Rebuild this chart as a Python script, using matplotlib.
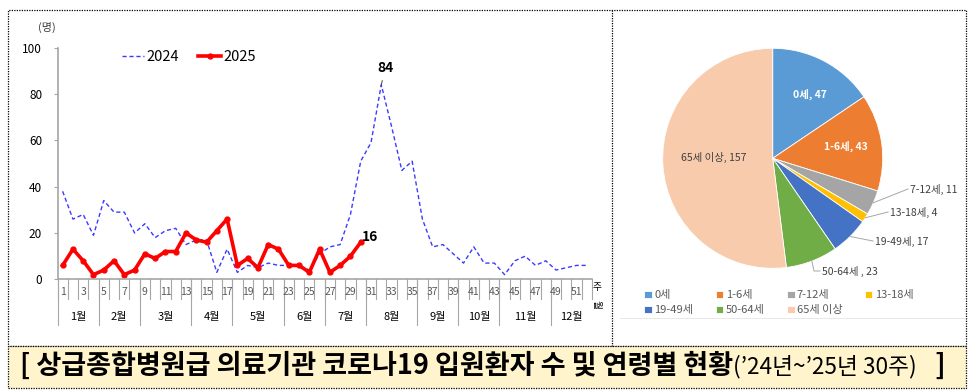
import numpy as np
import matplotlib
matplotlib.use('Agg')
from matplotlib import pyplot as plt
from matplotlib.lines import Line2D
from matplotlib.patches import Rectangle

plt.rcParams['font.family'] = ['Noto Sans CJK KR', 'DejaVu Sans']

W, H = 971, 391

# 주별 입원환자 수
weeks = np.arange(1, 53)
y2024 = [38, 26, 28, 19, 34, 29, 29, 20, 24, 18, 21, 22, 15, 17, 17, 3, 13, 3, 6, 5,
         7, 6, 6, 6, 4, 11, 14, 15, 28, 51, 59, 84, 66, 47, 51, 26, 14, 15, 11, 7,
         14, 7, 7, 2, 8, 10, 6, 8, 4, 5, 6, 6]
y2025 = [6, 13, 8, 2, 4, 8, 2, 4, 11, 9, 12, 12, 20, 17, 16, 21, 26, 6, 9, 5,
         15, 13, 6, 6, 3, 13, 3, 6, 10, 16]
month_labels = ['1월', '2월', '3월', '4월', '5월', '6월', '7월', '8월', '9월', '10월', '11월', '12월']
month_weeks = [4, 4, 5, 4, 5, 4, 4, 5, 4, 4, 5, 4]

# 연령별
ages = ['0세', '1-6세', '7-12세', '13-18세', '19-49세', '50-64세', '65세 이상']
counts = [47, 43, 11, 4, 17, 23, 157]
colors = ['#5B9BD5', '#ED7D31', '#A5A5A5', '#FFC000', '#4472C4', '#70AD47', '#F8CBAD']


def fx(x):
    return x / W


def fy(y):
    return 1 - y / H


fig = plt.figure(figsize=(W / 100, H / 100), dpi=100)

# ---- 테두리 / 제목 박스
dot = (0, (1, 1))
fig.add_artist(Rectangle((fx(8), fy(346)), fx(966) - fx(8), fy(10) - fy(346),
                         transform=fig.transFigure, fill=False, ls=dot, lw=0.9, ec='black'))
fig.add_artist(Line2D([fx(612), fx(612)], [fy(10), fy(346)], transform=fig.transFigure,
                      ls=dot, lw=0.9, color='black'))
fig.add_artist(Rectangle((fx(8), fy(388)), fx(966) - fx(8), fy(346) - fy(388),
                         transform=fig.transFigure, fc='#FFF4CC', ls=dot, lw=0.9, ec='black'))
fig.add_artist(Line2D([fx(620), fx(965)], [fy(318), fy(318)], transform=fig.transFigure,
                      lw=0.6, color='#E4E4E4'))

# ---- 선 그래프
ax = fig.add_axes([fx(57.5), fy(279.3), fx(592) - fx(57.5), fy(47.7) - fy(279.3)])
ax.plot(weeks, y2024, color='#3B3BFF', lw=1.0, ls=(0, (3, 2)), label='2024')
ax.plot(weeks[:len(y2025)], y2025, color='#FF0000', lw=2.6, marker='o', ms=3.5, label='2025')
ax.set_xlim(0.5, 52.5)
ax.set_ylim(0, 100)
ax.set_yticks(range(0, 101, 20))
ax.tick_params(axis='y', length=3, color='#A6A6A6', labelsize=8.5, pad=8)
ax.set_xticks([])
for s in ['top', 'right']:
    ax.spines[s].set_visible(False)
for s in ['left', 'bottom']:
    ax.spines[s].set_color('#A6A6A6')
    ax.spines[s].set_linewidth(1.2)

ax_h = fy(47.7) - fy(279.3)
tick_len = (20 / H) / ax_h
month_len = (46 / H) / ax_h
trans = ax.get_xaxis_transform()
for b in np.arange(0.5, 53, 1.0):
    ax.add_line(Line2D([b, b], [0, -tick_len], transform=trans, color='#A6A6A6', lw=0.8, clip_on=False))
bounds = np.concatenate([[0], np.cumsum(month_weeks)]) + 0.5
for b in bounds[:-1]:
    ax.add_line(Line2D([b, b], [0, -month_len], transform=trans, color='#A6A6A6', lw=0.8, clip_on=False))
for w in weeks[::2]:
    ax.text(w, -(12.5 / H) / ax_h, str(w), transform=trans, ha='center', va='center',
            fontsize=7.5, color='#595959')
for i, m in enumerate(month_labels):
    c = (bounds[i] + bounds[i + 1]) / 2
    ax.text(c, -(37.5 / H) / ax_h, m, transform=trans, ha='center', va='center', fontsize=8, color='black')

fig.text(fx(597), fy(287), '주', ha='center', va='center', fontsize=7, color='black')
fig.text(fx(597), fy(305), '월', ha='center', va='center', fontsize=7, color='black', rotation=270)
fig.text(fx(47), fy(27), '(명)', ha='center', va='center', fontsize=8, color='#404040')

ax.legend(loc='upper left', bbox_to_anchor=(fx(116), fy(44)), bbox_transform=fig.transFigure,
          ncol=2, frameon=False, fontsize=10.5, handlelength=1.55, handletextpad=0.15,
          columnspacing=1.3, borderaxespad=0)

i_max = int(np.argmax(y2024))
ax.annotate(str(y2024[i_max]), xy=(weeks[i_max], y2024[i_max]), xytext=(3, 12),
            textcoords='offset points', ha='center', va='center', fontsize=10, fontweight='bold',
            arrowprops=dict(arrowstyle='-', color='#404040', lw=0.7, shrinkA=2, shrinkB=0))
last = len(y2025) - 1
ax.annotate(str(y2025[last]), xy=(weeks[last], y2025[last]), xytext=(7, 4),
            textcoords='offset points', ha='center', va='center', fontsize=10, fontweight='bold')

# ---- 원 그래프
r = 110
pax = fig.add_axes([fx(772.7 - r), fy(158.3 + r), 2 * r / W, 2 * r / H])
wedges, _ = pax.pie(counts, colors=colors, startangle=90, counterclock=False, radius=1,
                    wedgeprops=dict(edgecolor='white', linewidth=0.6))
pax.set_xlim(-1, 1)
pax.set_ylim(-1, 1)
pax.axis('off')

inside = {0: (810, 94, 'white', 'bold'), 1: (846, 146, 'white', 'bold'), 6: (714, 157, '#404040', 'normal')}
for i, (x, y, c, wt) in inside.items():
    fig.text(fx(x), fy(y), f'{ages[i]}, {counts[i]}', ha='center', va='center', fontsize=7.5,
             color=c, fontweight=wt)

outside = {2: (908, 189, 908), 3: (888, 212, 888), 4: (873, 241, 873), 5: (820, 271, 820)}
for i, (x, y, x2) in outside.items():
    th = np.deg2rad((wedges[i].theta1 + wedges[i].theta2) / 2)
    px = 772.7 + r * np.cos(th)
    py = 158.3 - r * np.sin(th)
    if i == 5:
        xs, ys = [px, 814, 820], [py, 271, 271]
    else:
        xs, ys = [px, x2], [py, y]
    fig.add_artist(Line2D([fx(v) for v in xs], [fy(v) for v in ys], transform=fig.transFigure,
                          color='#A6A6A6', lw=0.7))
    sep = ' , ' if i == 5 else ', '
    fig.text(fx(x + 2), fy(y), f'{ages[i]}{sep}{counts[i]}', ha='left', va='center', fontsize=7.5,
             color='#404040')

order = [0, 4, 1, 5, 2, 6, 3]
fig.legend([wedges[i] for i in order], [ages[i] for i in order], loc='upper left',
           bbox_to_anchor=(fx(640), fy(286)), ncol=4, frameon=False, fontsize=8,
           labelcolor='#595959', handlelength=0.7, handleheight=0.7, handletextpad=0.2,
           columnspacing=2.0, labelspacing=0.45, borderaxespad=0)

# ---- 제목
fig.canvas.draw()
rend = fig.canvas.get_renderer()
t1 = fig.text(fx(20), fy(366), '[ 상급종합병원급 의료기관 코로나19 입원환자 수 및 연령별 현황',
              ha='left', va='center', fontsize=19.5, fontweight='bold')
bb = t1.get_window_extent(rend)
t2 = fig.text(bb.x1 / W, fy(367), '(’24년~’25년 30주)', ha='left', va='center', fontsize=16.3)
bb2 = t2.get_window_extent(rend)
fig.text(bb2.x1 / W, fy(366), '   ]', ha='left', va='center', fontsize=19.5, fontweight='bold')

fig.savefig('out.png', dpi=100)
